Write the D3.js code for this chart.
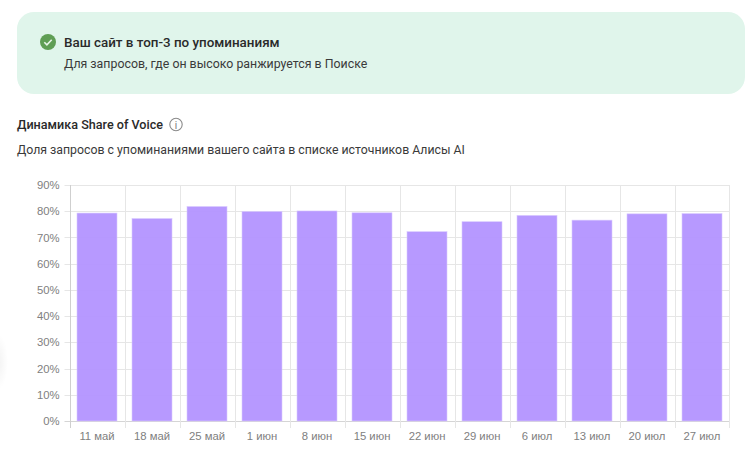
<!DOCTYPE html>
<html lang="ru">
<head>
<meta charset="utf-8">
<script src="https://cdn.jsdelivr.net/npm/d3@7"></script>
<style>
  html, body { margin: 0; padding: 0; background: #fff; overflow: hidden; }
  #body { width: 745px; height: 451px; }
  text { font-family: Roboto, sans-serif; }
  .axis text { font-family: "Liberation Sans", Arial, sans-serif; font-size: 11.3px; fill: #808080; }
</style>
</head>
<body>
<div id="body"></div>
<script>
const categories = ["11 май", "18 май", "25 май", "1 июн", "8 июн", "15 июн", "22 июн", "29 июн", "6 июл", "13 июл", "20 июл", "27 июл"];
const shareOfVoice = [79.3, 77.2, 81.8, 79.9, 80.1, 79.4, 72.2, 76, 78.4, 76.6, 79, 79.1];
const yTicks = [0, 10, 20, 30, 40, 50, 60, 70, 80, 90];

const width = 745,
  height = 451,
  margin = [185, 15.5, 30, 69.5];

const svg = d3.select("#body")
  .append("svg")
  .attr("width", width)
  .attr("height", height)
  .style("display", "block");

// slabaya ten u levogo kraya
const shade = svg.append("defs")
  .append("radialGradient")
  .attr("id", "edge-shade");
shade.append("stop").attr("offset", "0%").attr("stop-color", "#000").attr("stop-opacity", 0.05);
shade.append("stop").attr("offset", "100%").attr("stop-color", "#000").attr("stop-opacity", 0);

svg.append("ellipse")
  .attr("cx", -2)
  .attr("cy", 362)
  .attr("rx", 10)
  .attr("ry", 28)
  .attr("fill", "url(#edge-shade)");

// verhnyaya plashka
svg.append("rect")
  .attr("x", 17)
  .attr("y", 12)
  .attr("width", 728)
  .attr("height", 82)
  .attr("rx", 17)
  .attr("fill", "#e0f5eb");

svg.append("circle")
  .attr("cx", 48)
  .attr("cy", 42)
  .attr("r", 8)
  .attr("fill", "#5f9e54");

svg.append("path")
  .attr("d", "M44.3 42.2l2.6 2.6 4.8-5")
  .attr("fill", "none")
  .attr("stroke", "#e8f5e8")
  .attr("stroke-width", 1.6);

svg.append("text")
  .attr("x", 64)
  .attr("y", 46.5)
  .attr("font-size", 13.4)
  .attr("font-weight", 500)
  .attr("fill", "#2a2a2a")
  .text("Ваш сайт в топ-3 по упоминаниям");

svg.append("text")
  .attr("x", 64)
  .attr("y", 68)
  .attr("font-size", 12.35)
  .attr("fill", "#3a3a3a")
  .text("Для запросов, где он высоко ранжируется в Поиске");

svg.append("text")
  .attr("x", 17)
  .attr("y", 129)
  .attr("font-size", 12.6)
  .attr("font-weight", 500)
  .attr("fill", "#2a2a2a")
  .text("Динамика Share of Voice");

svg.append("circle")
  .attr("cx", 176)
  .attr("cy", 124.5)
  .attr("r", 6.2)
  .attr("fill", "none")
  .attr("stroke", "#8a8a8a")
  .attr("stroke-width", 1.1);

svg.append("text")
  .attr("x", 176)
  .attr("y", 128.5)
  .attr("text-anchor", "middle")
  .attr("font-size", 10)
  .attr("fill", "#777")
  .text("i");

svg.append("text")
  .attr("x", 17)
  .attr("y", 154)
  .attr("font-size", 12.3)
  .attr("fill", "#3a3a3a")
  .text("Доля запросов с упоминаниями вашего сайта в списке источников Алисы AI");

// grafik
const x = d3.scaleBand()
  .domain(categories)
  .range([margin[3], width - margin[1]]);

const y = d3.scaleLinear()
  .domain([0, 90])
  .range([height - margin[2], margin[0]]);

const plot = svg.append("g");

plot.selectAll("line.hgrid")
  .data(yTicks)
  .enter()
  .append("line")
  .attr("class", "hgrid")
  .attr("x1", margin[3] - 5)
  .attr("x2", width - margin[1])
  .attr("y1", d => Math.round(y(d)) + 0.5)
  .attr("y2", d => Math.round(y(d)) + 0.5)
  .attr("stroke", d => d == 0 ? "#d5d5d5" : "#e6e6e6");

plot.selectAll("line.vgrid")
  .data(categories.concat("end"))
  .enter()
  .append("line")
  .attr("class", "vgrid")
  .attr("x1", d => d == "end" ? x.range()[1] : Math.round(x(d)) + 0.5)
  .attr("x2", d => d == "end" ? x.range()[1] : Math.round(x(d)) + 0.5)
  .attr("y1", margin[0])
  .attr("y2", height - margin[2] + 7)
  .attr("stroke", (d, i) => i == 0 ? "#cfcfcf" : "#e6e6e6");

plot.selectAll("rect.bar")
  .data(shareOfVoice)
  .enter()
  .append("rect")
  .attr("class", "bar")
  .attr("x", (d, i) => x(categories[i]) + (x.bandwidth() - 40) / 2)
  .attr("y", d => y(d))
  .attr("width", 40)
  .attr("height", d => y(0) - y(d))
  .attr("fill", "#b191ff")
  .attr("fill-opacity", 0.93)
  .attr("stroke", "#d9caff")
  .attr("stroke-width", 0.6);

const yAxis = svg.append("g")
  .attr("class", "axis")
  .attr("transform", `translate(${margin[3]},0)`)
  .call(d3.axisLeft(y).tickValues(yTicks).tickFormat(d => d + "%").tickSize(0).tickPadding(10));

const xAxis = svg.append("g")
  .attr("class", "axis")
  .attr("transform", `translate(0,${height - margin[2]})`)
  .call(d3.axisBottom(x).tickSize(0).tickPadding(11));

yAxis.select(".domain").remove();
xAxis.select(".domain").remove();
</script>
</body>
</html>
